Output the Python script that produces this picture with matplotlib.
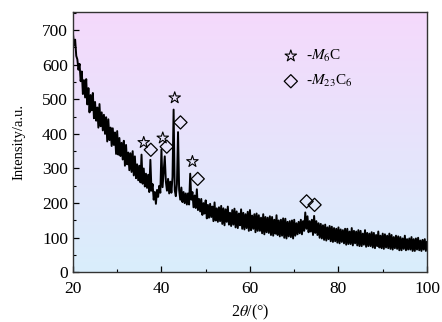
import matplotlib
matplotlib.use('Agg')
import matplotlib.pyplot as plt
import numpy as np
from matplotlib.colors import LinearSegmentedColormap

# 2theta grid (0.25 deg steps) and intensities
two_theta = np.arange(20, 100.01, 0.25)
intensity = [
  690, 655, 672, 625,   # 20
  615, 585, 602, 552,   # 21
  580, 515, 555, 505,   # 22
  558, 485, 532, 462,   # 23
  512, 468, 518, 445,   # 24
  492, 438, 476, 418,   # 25
  486, 422, 462, 410,   # 26
  455, 400, 448, 378,   # 27
  442, 382, 418, 365,   # 28
  416, 368, 404, 342,   # 29
  408, 340, 388, 336,   # 30
  374, 326, 380, 308,   # 31
  368, 312, 346, 295,   # 32
  344, 290, 350, 280,   # 33
  335, 272, 312, 266,   # 34
  308, 260, 340, 256,   # 35
  300, 248, 285, 244,   # 36
  282, 232, 325, 236,   # 37
  255, 210, 232, 198,   # 38
  238, 218, 250, 230,   # 39
  355, 246, 290, 335,   # 40
  262, 236, 270, 228,   # 41
  262, 230, 275, 470,   # 42
  238, 220, 255, 405,   # 43
  238, 210, 245, 203,   # 44
  232, 200, 228, 196,   # 45
  228, 196, 285, 210,   # 46
  232, 188, 222, 186,   # 47
  240, 180, 212, 176,   # 48
  212, 166, 200, 170,   # 49
  208, 156, 195, 158,   # 50
  198, 160, 190, 148,   # 51
  202, 150, 185, 146,   # 52
  188, 148, 192, 140,   # 53
  185, 136, 182, 146,   # 54
  190, 138, 172, 134,   # 55
  180, 138, 184, 130,   # 56
  176, 128, 170, 136,   # 57
  182, 126, 172, 124,   # 58
  168, 128, 175, 120,   # 59
  180, 122, 164, 126,   # 60
  168, 116, 170, 120,   # 61
  165, 120, 158, 113,   # 62
  168, 110, 160, 116,   # 63
  158, 114, 162, 108,   # 64
  160, 106, 152, 112,   # 65
  165, 108, 150, 104,   # 66
  152, 106, 156, 100,   # 67
  155, 98, 146, 104,    # 68
  148, 102, 150, 98,    # 69
  152, 106, 142, 110,   # 70
  146, 113, 152, 110,   # 71
  148, 120, 173, 126,   # 72
  162, 116, 148, 118,   # 73
  152, 108, 163, 114,   # 74
  148, 108, 142, 100,   # 75
  140, 98, 136, 94,     # 76
  138, 92, 130, 96,     # 77
  134, 90, 132, 88,     # 78
  128, 90, 126, 86,     # 79
  130, 84, 124, 88,     # 80
  122, 84, 126, 80,     # 81
  126, 82, 118, 82,     # 82
  128, 78, 120, 84,     # 83
  118, 78, 122, 76,     # 84
  120, 76, 112, 80,     # 85
  122, 74, 114, 76,     # 86
  112, 76, 116, 72,     # 87
  114, 70, 108, 76,     # 88
  118, 72, 106, 70,     # 89
  112, 68, 110, 72,     # 90
  106, 70, 112, 68,     # 91
  108, 66, 102, 70,     # 92
  106, 68, 104, 64,     # 93
  102, 64, 98, 68,      # 94
  106, 64, 96, 66,      # 95
  98, 66, 102, 62,      # 96
  96, 62, 98, 66,       # 97
  100, 64, 92, 62,      # 98
  94, 66, 96, 62,       # 99
  88,                   # 100
]

# phase markers
m6c_x = [36.0, 40.3, 43.0, 47.0]
m6c_y = [375, 388, 504, 320]
m23c6_x = [37.6, 41.2, 44.3, 48.2, 72.8, 74.6]
m23c6_y = [354, 363, 433, 270, 205, 195]

x_ticks = [20, 40, 60, 80, 100]
y_ticks = [0, 100, 200, 300, 400, 500, 600, 700]


def main():
  plt.rcParams['font.family'] = ['Liberation Serif', 'DejaVu Serif']
  plt.rcParams['mathtext.fontset'] = 'stix'

  fig = plt.figure(figsize=(4.42, 3.22), dpi=100)
  ax = fig.add_axes([0.165, 0.154, 0.801, 0.809])

  # pink -> light blue background
  cmap = LinearSegmentedColormap.from_list('bg', ['#d9eefc', '#f5d9fb'])
  grad = np.linspace(0, 1, 256).reshape(-1, 1)
  ax.imshow(grad, extent=[0, 1, 0, 1], transform=ax.transAxes, origin='lower',
            cmap=cmap, aspect='auto', zorder=0)

  ax.plot(two_theta, intensity, color='black', lw=1.4, zorder=2)

  ax.scatter(m6c_x, m6c_y, marker='*', s=75, facecolors='none',
             edgecolors='black', linewidths=0.8, zorder=3, label=r'-$\mathit{M}_{6}$C')
  ax.scatter(m23c6_x, m23c6_y, marker='D', s=45, facecolors='none',
             edgecolors='black', linewidths=0.9, zorder=3, label=r'-$\mathit{M}_{23}$C$_{6}$')

  ax.set_xlim(20, 100)
  ax.set_ylim(0, 752)
  ax.set_xticks(x_ticks)
  ax.set_yticks(y_ticks)
  ax.set_xticks([30, 50, 70, 90], minor=True)
  ax.set_yticks(np.arange(50, 751, 100), minor=True)
  ax.tick_params(which='major', direction='in', length=4, width=0.9, labelsize=12.5)
  ax.tick_params(which='minor', direction='in', length=2, width=0.8)
  ax.tick_params(axis='x', pad=6)
  for s in ax.spines.values():
    s.set_color('#333333')
    s.set_linewidth(1.0)

  ax.set_xlabel(r'2$\mathit{\theta}$/(°)', fontsize=11.5, labelpad=4)
  ax.set_ylabel('Intensity/a.u.', fontsize=10.5, labelpad=12)

  ax.legend(loc='upper left', bbox_to_anchor=(0.555, 0.885), frameon=False,
            fontsize=11, handletextpad=0.0, labelspacing=0.6, borderaxespad=0)

  fig.savefig('out.png', dpi=100)


main()
